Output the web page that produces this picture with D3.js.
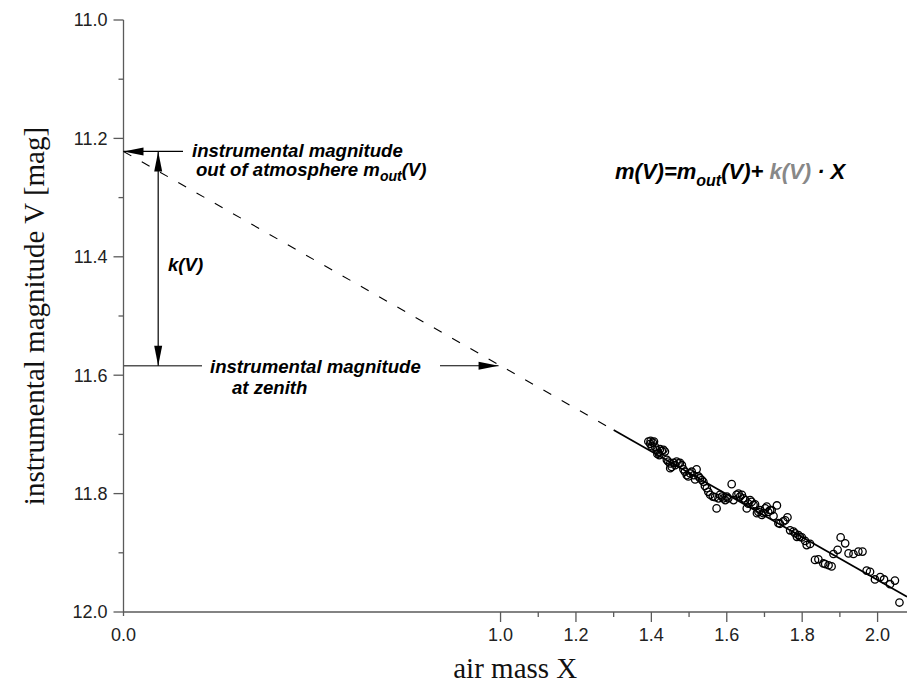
<!DOCTYPE html>
<html>
<head>
<meta charset="utf-8">
<script src="https://cdn.jsdelivr.net/npm/d3@7"></script>
<style>
  html, body { margin: 0; padding: 0; background: #fff; }
  svg { display: block; }
</style>
</head>
<body>
<svg id="chart" width="907" height="688"></svg>
<script>
// Extinction measurements: air mass X and instrumental magnitude V
const airMass = [
  1.392, 1.398, 1.404, 1.407, 1.397, 1.401, 1.410, 1.414, 1.419, 1.423,
  1.428, 1.432, 1.436, 1.421, 1.416, 1.441, 1.445, 1.450, 1.454, 1.459,
  1.463, 1.467, 1.472, 1.476, 1.481, 1.485, 1.450, 1.489, 1.494, 1.498,
  1.503, 1.507, 1.512, 1.516, 1.520, 1.525, 1.529, 1.534, 1.538, 1.542,
  1.547, 1.551, 1.556, 1.563, 1.569, 1.573, 1.578, 1.582, 1.587, 1.591,
  1.596, 1.600, 1.604, 1.613, 1.618, 1.626, 1.631, 1.635, 1.640, 1.644,
  1.649, 1.653, 1.657, 1.662, 1.666, 1.671, 1.675, 1.680, 1.684, 1.688,
  1.693, 1.697, 1.702, 1.706, 1.710, 1.715, 1.719, 1.724, 1.733, 1.737,
  1.741, 1.750, 1.755, 1.761, 1.768, 1.777, 1.781, 1.786, 1.790, 1.794,
  1.799, 1.808, 1.812, 1.821, 1.834, 1.843, 1.856, 1.861, 1.870, 1.878,
  1.883, 1.894, 1.902, 1.914, 1.923, 1.936, 1.949, 1.960, 1.971, 1.980,
  1.993, 2.007, 2.017, 2.033, 2.046, 2.058
];
const magnitude = [
  11.712, 11.711, 11.714, 11.712, 11.716, 11.720, 11.721, 11.726, 11.731, 11.725,
  11.728, 11.726, 11.729, 11.735, 11.733, 11.743, 11.746, 11.749, 11.755, 11.748,
  11.752, 11.746, 11.749, 11.748, 11.752, 11.759, 11.757, 11.763, 11.769, 11.771,
  11.766, 11.763, 11.769, 11.776, 11.759, 11.771, 11.774, 11.777, 11.780, 11.787,
  11.791, 11.797, 11.802, 11.805, 11.806, 11.825, 11.808, 11.802, 11.805, 11.808,
  11.811, 11.805, 11.808, 11.784, 11.811, 11.802, 11.800, 11.805, 11.802, 11.808,
  11.811, 11.825, 11.817, 11.811, 11.814, 11.819, 11.818, 11.833, 11.831, 11.828,
  11.836, 11.833, 11.825, 11.822, 11.831, 11.828, 11.828, 11.838, 11.820, 11.850,
  11.851, 11.847, 11.845, 11.840, 11.862, 11.864, 11.867, 11.873, 11.870, 11.873,
  11.874, 11.880, 11.887, 11.885, 11.912, 11.911, 11.918, 11.919, 11.921, 11.923,
  11.902, 11.895, 11.874, 11.884, 11.901, 11.902, 11.898, 11.898, 11.930, 11.932,
  11.945, 11.941, 11.945, 11.953, 11.947, 11.984
];

// Fit parameters: magnitude outside the atmosphere and extinction coefficient
const mOut = 11.222;
const kV = 0.362;
const fitStart = 1.3;   // solid part of the fit line starts here

// Axis ticks and labels
const yMajorTicks = [11.0, 11.2, 11.4, 11.6, 11.8, 12.0];
const yMinorTicks = [11.1, 11.3, 11.5, 11.7, 11.9];
const xLabelTicks = [0.0, 1.0, 1.2, 1.4, 1.6, 1.8, 2.0];
const xMajorTicks = [1.0, 1.2, 1.4, 1.6, 1.8, 2.0];
const xMinorTicks = [1.1, 1.3, 1.5, 1.7, 1.9];

const svg = d3.select("#chart");
const axisColor = "#5a5a5a";
const sansFont = "'Liberation Sans', Arial, sans-serif";
const serifFont = "'Liberation Serif', 'Times New Roman', serif";

const x = d3.scaleLinear().domain([0, 2.078]).range([123.5, 907]);
const y = d3.scaleLinear().domain([11.0, 12.0]).range([20, 612]);
const fit = X => mOut + kV * X;

// ---- axes ----
const yAxisG = svg.append("g").attr("transform", `translate(${x(0)},0)`);
yAxisG.append("line").attr("x1", 0).attr("x2", 0)
  .attr("y1", y(11.0)).attr("y2", y(12.0) + 4)
  .attr("stroke", axisColor).attr("stroke-width", 1.3);
yAxisG.selectAll(".ymaj").data(yMajorTicks).join("line")
  .attr("x1", -10).attr("x2", 0).attr("y1", d => y(d)).attr("y2", d => y(d))
  .attr("stroke", axisColor).attr("stroke-width", 1.3);
yAxisG.selectAll(".ymin").data(yMinorTicks).join("line")
  .attr("x1", -5).attr("x2", 0).attr("y1", d => y(d)).attr("y2", d => y(d))
  .attr("stroke", axisColor).attr("stroke-width", 1.3);
yAxisG.selectAll(".ylab").data(yMajorTicks).join("text")
  .attr("x", -16).attr("y", d => y(d)).attr("dy", "0.36em")
  .attr("text-anchor", "end").attr("font-family", sansFont).attr("font-size", 18)
  .attr("fill", "#222").text(d3.format(".1f"));

const xAxisG = svg.append("g").attr("transform", `translate(0,${y(12.0)})`);
xAxisG.append("line").attr("x1", x(0)).attr("x2", 907).attr("y1", 0).attr("y2", 0)
  .attr("stroke", axisColor).attr("stroke-width", 1.3);
xAxisG.selectAll(".xmaj").data(xMajorTicks).join("line")
  .attr("x1", d => x(d)).attr("x2", d => x(d)).attr("y1", 0).attr("y2", 10)
  .attr("stroke", axisColor).attr("stroke-width", 1.3);
xAxisG.selectAll(".xmin").data(xMinorTicks).join("line")
  .attr("x1", d => x(d)).attr("x2", d => x(d)).attr("y1", 0).attr("y2", 5)
  .attr("stroke", axisColor).attr("stroke-width", 1.3);
xAxisG.selectAll(".xlab").data(xLabelTicks).join("text")
  .attr("x", d => x(d)).attr("y", 29)
  .attr("text-anchor", "middle").attr("font-family", sansFont).attr("font-size", 18)
  .attr("fill", "#222").text(d3.format(".1f"));

// axis titles
svg.append("text")
  .attr("transform", `translate(44,${(y(11.0) + y(12.0)) / 2}) rotate(-90)`)
  .attr("text-anchor", "middle").attr("font-family", serifFont).attr("font-size", 29)
  .attr("fill", "#111").text("instrumental magnitude V [mag]");
svg.append("text")
  .attr("x", (x(0) + 907) / 2).attr("y", 678)
  .attr("text-anchor", "middle").attr("font-family", serifFont).attr("font-size", 29)
  .attr("fill", "#111").text("air mass X");

// ---- fit line: extrapolated (dashed) and fitted range (solid) ----
const line = d3.line().x(d => x(d)).y(d => y(fit(d)));
svg.append("path").datum([0, fitStart]).attr("d", line)
  .attr("fill", "none").attr("stroke", "#000").attr("stroke-width", 1.1)
  .attr("stroke-dasharray", "9,12");
svg.append("path").datum([fitStart, x.domain()[1]]).attr("d", line)
  .attr("fill", "none").attr("stroke", "#000").attr("stroke-width", 1.7);

// ---- measurements ----
svg.append("g").selectAll("circle").data(airMass).join("circle")
  .attr("cx", d => x(d)).attr("cy", (d, i) => y(magnitude[i])).attr("r", 3.7)
  .attr("fill", "none").attr("stroke", "#000").attr("stroke-width", 1.3);

// ---- annotations ----
function arrowHead(tipX, tipY, dir) {
  // dir: unit vector pointing from tail towards tip
  const L = 20, W = 4;
  const bx = tipX - dir[0] * L, by = tipY - dir[1] * L;
  const px = -dir[1] * W, py = dir[0] * W;
  svg.append("path")
    .attr("d", `M${tipX},${tipY}L${bx + px},${by + py}L${bx - px},${by - py}Z`)
    .attr("fill", "#000");
}

const yOut = y(fit(0));
const yZen = y(fit(1));
const kArrowX = x(0.092);

// arrow to the magnitude outside the atmosphere
svg.append("line").attr("x1", x(0)).attr("x2", 183).attr("y1", yOut).attr("y2", yOut)
  .attr("stroke", "#000").attr("stroke-width", 1.2);
arrowHead(x(0), yOut, [-1, 0]);

// zenith level
svg.append("line").attr("x1", x(0)).attr("x2", 202).attr("y1", yZen).attr("y2", yZen)
  .attr("stroke", "#555").attr("stroke-width", 1.5);

// k(V) double arrow
svg.append("line").attr("x1", kArrowX).attr("x2", kArrowX).attr("y1", yOut).attr("y2", yZen)
  .attr("stroke", "#000").attr("stroke-width", 1.2);
arrowHead(kArrowX, yOut, [0, -1]);
arrowHead(kArrowX, yZen, [0, 1]);

// arrow to the zenith point on the fit line
const zenTip = x(1.0) - 2;
svg.append("line").attr("x1", 440).attr("x2", zenTip).attr("y1", yZen).attr("y2", yZen)
  .attr("stroke", "#000").attr("stroke-width", 1.2);
arrowHead(zenTip, yZen, [1, 0]);

const annot = (tx, ty, size) => svg.append("text").attr("x", tx).attr("y", ty)
  .attr("font-family", sansFont).attr("font-size", size)
  .attr("font-weight", "bold").attr("font-style", "italic").attr("fill", "#000");

annot(192, yOut + 6, 18.6).text("instrumental magnitude");
const t2 = annot(196, yOut + 25, 18.6);
t2.append("tspan").text("out of atmosphere m");
t2.append("tspan").attr("dy", 5).attr("font-size", 14).text("out");
t2.append("tspan").attr("dy", -5).text("(V)");

annot(168, 271, 18.6).text("k(V)");
annot(210, yZen + 7, 18.6).text("instrumental magnitude");
annot(232, yZen + 28, 18.6).text("at zenith");

// model equation
const eq = annot(615, 179, 22);
eq.append("tspan").text("m(V)=m");
eq.append("tspan").attr("dy", 7).attr("font-size", 16).text("out");
eq.append("tspan").attr("dy", -7).text("(V)+ ");
eq.append("tspan").attr("fill", "#888").text("k(V)");
eq.append("tspan").text(" \u00B7 X");
</script>
</body>
</html>
